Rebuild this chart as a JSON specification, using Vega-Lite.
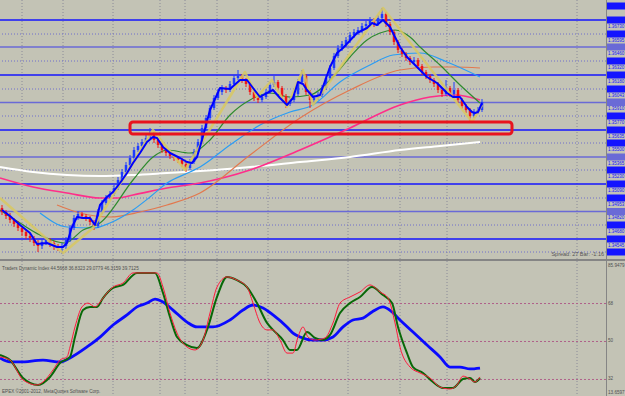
{
"$schema":"https://vega.github.io/schema/vega-lite/v6.json",
"background":"#858585",
"padding":0,
"autosize":{"type":"pad"},
"spacing":2,
"config":{"view":{"fill":"#c3c3b5","stroke":null},"text":{"font":"DejaVu Sans"},"mark":{"clip":true},"line":{"strokeJoin":"round","clip":true},"rule":{"clip":true},"rect":{"clip":true},"text":{"clip":true}},
"datasets":{
"candles":[
{"i":0,"o":1.3492,"h":1.3495,"l":1.3485,"c":1.3488},{"i":1,"o":1.3488,"h":1.3490,"l":1.3481,"c":1.3484},{"i":2,"o":1.3484,"h":1.3487,"l":1.3477,"c":1.3480},{"i":3,"o":1.3480,"h":1.3482,"l":1.3473,"c":1.3476},{"i":4,"o":1.3476,"h":1.3479,"l":1.3469,"c":1.3472},{"i":5,"o":1.3472,"h":1.3474,"l":1.3464,"c":1.3468},{"i":6,"o":1.3468,"h":1.3471,"l":1.3461,"c":1.3464},{"i":7,"o":1.3464,"h":1.3467,"l":1.3458,"c":1.3462},{"i":8,"o":1.3462,"h":1.3464,"l":1.3454,"c":1.3457},{"i":9,"o":1.3457,"h":1.3460,"l":1.3448,"c":1.3454},
{"i":10,"o":1.3454,"h":1.3461,"l":1.3451,"c":1.3458},{"i":11,"o":1.3458,"h":1.3463,"l":1.3455,"c":1.3460},{"i":12,"o":1.3460,"h":1.3462,"l":1.3453,"c":1.3457},{"i":13,"o":1.3457,"h":1.3459,"l":1.3450,"c":1.3454},{"i":14,"o":1.3454,"h":1.3456,"l":1.3449,"c":1.3452},{"i":15,"o":1.3452,"h":1.3457,"l":1.3446,"c":1.3454},{"i":16,"o":1.3454,"h":1.3463,"l":1.3451,"c":1.3460},{"i":17,"o":1.3460,"h":1.3475,"l":1.3458,"c":1.3472},{"i":18,"o":1.3472,"h":1.3485,"l":1.3470,"c":1.3482},{"i":19,"o":1.3482,"h":1.3489,"l":1.3480,"c":1.3486},
{"i":20,"o":1.3486,"h":1.3488,"l":1.3481,"c":1.3484},{"i":21,"o":1.3484,"h":1.3486,"l":1.3479,"c":1.3482},{"i":22,"o":1.3482,"h":1.3484,"l":1.3475,"c":1.3478},{"i":23,"o":1.3478,"h":1.3480,"l":1.3470,"c":1.3474},{"i":24,"o":1.3474,"h":1.3491,"l":1.3472,"c":1.3488},{"i":25,"o":1.3488,"h":1.3500,"l":1.3486,"c":1.3497},{"i":26,"o":1.3497,"h":1.3505,"l":1.3495,"c":1.3502},{"i":27,"o":1.3502,"h":1.3509,"l":1.3500,"c":1.3506},{"i":28,"o":1.3506,"h":1.3515,"l":1.3504,"c":1.3512},{"i":29,"o":1.3512,"h":1.3523,"l":1.3510,"c":1.3520},
{"i":30,"o":1.3520,"h":1.3531,"l":1.3518,"c":1.3528},{"i":31,"o":1.3528,"h":1.3538,"l":1.3526,"c":1.3535},{"i":32,"o":1.3535,"h":1.3545,"l":1.3533,"c":1.3542},{"i":33,"o":1.3542,"h":1.3553,"l":1.3540,"c":1.3550},{"i":34,"o":1.3550,"h":1.3557,"l":1.3548,"c":1.3554},{"i":35,"o":1.3554,"h":1.3561,"l":1.3552,"c":1.3558},{"i":36,"o":1.3558,"h":1.3565,"l":1.3556,"c":1.3562},{"i":37,"o":1.3562,"h":1.3572,"l":1.3560,"c":1.3566},{"i":38,"o":1.3566,"h":1.3568,"l":1.3557,"c":1.3560},{"i":39,"o":1.3560,"h":1.3562,"l":1.3552,"c":1.3555},
{"i":40,"o":1.3555,"h":1.3557,"l":1.3547,"c":1.3550},{"i":41,"o":1.3550,"h":1.3552,"l":1.3544,"c":1.3547},{"i":42,"o":1.3547,"h":1.3549,"l":1.3541,"c":1.3544},{"i":43,"o":1.3544,"h":1.3546,"l":1.3539,"c":1.3542},{"i":44,"o":1.3542,"h":1.3544,"l":1.3537,"c":1.3540},{"i":45,"o":1.3540,"h":1.3542,"l":1.3533,"c":1.3536},{"i":46,"o":1.3536,"h":1.3538,"l":1.3528,"c":1.3532},{"i":47,"o":1.3532,"h":1.3541,"l":1.3530,"c":1.3538},{"i":48,"o":1.3538,"h":1.3551,"l":1.3536,"c":1.3548},{"i":49,"o":1.3548,"h":1.3561,"l":1.3546,"c":1.3558},
{"i":50,"o":1.3558,"h":1.3575,"l":1.3556,"c":1.3572},{"i":51,"o":1.3572,"h":1.3585,"l":1.3570,"c":1.3582},{"i":52,"o":1.3582,"h":1.3595,"l":1.3580,"c":1.3592},{"i":53,"o":1.3592,"h":1.3605,"l":1.3590,"c":1.3602},{"i":54,"o":1.3602,"h":1.3611,"l":1.3600,"c":1.3608},{"i":55,"o":1.3608,"h":1.3615,"l":1.3605,"c":1.3612},{"i":56,"o":1.3612,"h":1.3614,"l":1.3607,"c":1.3610},{"i":57,"o":1.3610,"h":1.3619,"l":1.3608,"c":1.3616},{"i":58,"o":1.3616,"h":1.3625,"l":1.3614,"c":1.3622},{"i":59,"o":1.3622,"h":1.3630,"l":1.3620,"c":1.3624},
{"i":60,"o":1.3624,"h":1.3626,"l":1.3617,"c":1.3620},{"i":61,"o":1.3620,"h":1.3622,"l":1.3613,"c":1.3616},{"i":62,"o":1.3616,"h":1.3618,"l":1.3605,"c":1.3608},{"i":63,"o":1.3608,"h":1.3610,"l":1.3599,"c":1.3602},{"i":64,"o":1.3602,"h":1.3604,"l":1.3597,"c":1.3600},{"i":65,"o":1.3600,"h":1.3606,"l":1.3598,"c":1.3603},{"i":66,"o":1.3603,"h":1.3611,"l":1.3601,"c":1.3608},{"i":67,"o":1.3608,"h":1.3618,"l":1.3606,"c":1.3615},{"i":68,"o":1.3615,"h":1.3624,"l":1.3613,"c":1.3618},{"i":69,"o":1.3618,"h":1.3620,"l":1.3609,"c":1.3612},
{"i":70,"o":1.3612,"h":1.3614,"l":1.3601,"c":1.3604},{"i":71,"o":1.3604,"h":1.3606,"l":1.3592,"c":1.3596},{"i":72,"o":1.3596,"h":1.3603,"l":1.3594,"c":1.3600},{"i":73,"o":1.3600,"h":1.3609,"l":1.3598,"c":1.3606},{"i":74,"o":1.3606,"h":1.3621,"l":1.3604,"c":1.3618},{"i":75,"o":1.3618,"h":1.3630,"l":1.3616,"c":1.3624},{"i":76,"o":1.3624,"h":1.3626,"l":1.3605,"c":1.3608},{"i":77,"o":1.3608,"h":1.3610,"l":1.3592,"c":1.3600},{"i":78,"o":1.3600,"h":1.3605,"l":1.3597,"c":1.3602},{"i":79,"o":1.3602,"h":1.3608,"l":1.3600,"c":1.3605},
{"i":80,"o":1.3605,"h":1.3615,"l":1.3603,"c":1.3612},{"i":81,"o":1.3612,"h":1.3625,"l":1.3610,"c":1.3622},{"i":82,"o":1.3622,"h":1.3635,"l":1.3620,"c":1.3632},{"i":83,"o":1.3632,"h":1.3647,"l":1.3630,"c":1.3644},{"i":84,"o":1.3644,"h":1.3655,"l":1.3642,"c":1.3652},{"i":85,"o":1.3652,"h":1.3659,"l":1.3649,"c":1.3656},{"i":86,"o":1.3656,"h":1.3663,"l":1.3653,"c":1.3660},{"i":87,"o":1.3660,"h":1.3668,"l":1.3657,"c":1.3665},{"i":88,"o":1.3665,"h":1.3671,"l":1.3662,"c":1.3668},{"i":89,"o":1.3668,"h":1.3673,"l":1.3665,"c":1.3670},
{"i":90,"o":1.3670,"h":1.3677,"l":1.3667,"c":1.3674},{"i":91,"o":1.3674,"h":1.3679,"l":1.3671,"c":1.3676},{"i":92,"o":1.3676,"h":1.3683,"l":1.3673,"c":1.3680},{"i":93,"o":1.3680,"h":1.3682,"l":1.3673,"c":1.3676},{"i":94,"o":1.3676,"h":1.3685,"l":1.3674,"c":1.3682},{"i":95,"o":1.3682,"h":1.3692,"l":1.3680,"c":1.3686},{"i":96,"o":1.3686,"h":1.3688,"l":1.3673,"c":1.3676},{"i":97,"o":1.3676,"h":1.3678,"l":1.3665,"c":1.3668},{"i":98,"o":1.3668,"h":1.3670,"l":1.3655,"c":1.3658},{"i":99,"o":1.3658,"h":1.3660,"l":1.3647,"c":1.3650},
{"i":100,"o":1.3650,"h":1.3652,"l":1.3643,"c":1.3646},{"i":101,"o":1.3646,"h":1.3648,"l":1.3639,"c":1.3642},{"i":102,"o":1.3642,"h":1.3644,"l":1.3635,"c":1.3638},{"i":103,"o":1.3638,"h":1.3643,"l":1.3636,"c":1.3640},{"i":104,"o":1.3640,"h":1.3642,"l":1.3631,"c":1.3634},{"i":105,"o":1.3634,"h":1.3636,"l":1.3625,"c":1.3628},{"i":106,"o":1.3628,"h":1.3630,"l":1.3621,"c":1.3624},{"i":107,"o":1.3624,"h":1.3626,"l":1.3617,"c":1.3620},{"i":108,"o":1.3620,"h":1.3622,"l":1.3613,"c":1.3616},{"i":109,"o":1.3616,"h":1.3618,"l":1.3607,"c":1.3610},
{"i":110,"o":1.3610,"h":1.3612,"l":1.3603,"c":1.3606},{"i":111,"o":1.3606,"h":1.3620,"l":1.3604,"c":1.3612},{"i":112,"o":1.3612,"h":1.3614,"l":1.3603,"c":1.3606},{"i":113,"o":1.3606,"h":1.3618,"l":1.3604,"c":1.3610},{"i":114,"o":1.3610,"h":1.3612,"l":1.3597,"c":1.3600},{"i":115,"o":1.3600,"h":1.3602,"l":1.3591,"c":1.3594},{"i":116,"o":1.3594,"h":1.3596,"l":1.3587,"c":1.3590},{"i":117,"o":1.3590,"h":1.3592,"l":1.3578,"c":1.3584},{"i":118,"o":1.3584,"h":1.3591,"l":1.3582,"c":1.3588},{"i":119,"o":1.3588,"h":1.3593,"l":1.3586,"c":1.3590},
{"i":120,"o":1.3590,"h":1.3601,"l":1.3588,"c":1.3598}
],
"ma":[
{"s":"white","i":-0.5,"v":1.3533},{"s":"white","i":7.75,"v":1.3528},{"s":"white","i":16.25,"v":1.3525},{"s":"white","i":24.5,"v":1.3524},{"s":"white","i":32.75,"v":1.3525},{"s":"white","i":41.25,"v":1.3527},{"s":"white","i":49.5,"v":1.3529},{"s":"white","i":62,"v":1.3533},{"s":"white","i":74.5,"v":1.3538},{"s":"white","i":87,"v":1.3543},{"s":"white","i":99.5,"v":1.3550},{"s":"white","i":109.5,"v":1.3554},{"s":"white","i":119.5,"v":1.3558},
{"s":"pink","i":-0.5,"v":1.3522},{"s":"pink","i":7.75,"v":1.3513},{"s":"pink","i":16.25,"v":1.3507},{"s":"pink","i":24.5,"v":1.3502},{"s":"pink","i":28.75,"v":1.3502},{"s":"pink","i":32.75,"v":1.3505},{"s":"pink","i":41.25,"v":1.3512},{"s":"pink","i":49.5,"v":1.3517},{"s":"pink","i":62,"v":1.3530},{"s":"pink","i":74.5,"v":1.3550},{"s":"pink","i":87,"v":1.3572},{"s":"pink","i":99.5,"v":1.3595},{"s":"pink","i":107,"v":1.3603},{"s":"pink","i":113.25,"v":1.3605},{"s":"pink","i":119.5,"v":1.3600},
{"s":"orange","i":13.75,"v":1.3495},{"s":"orange","i":19.5,"v":1.3487},{"s":"orange","i":27,"v":1.3483},{"s":"orange","i":34.5,"v":1.3488},{"s":"orange","i":41.25,"v":1.3495},{"s":"orange","i":49.5,"v":1.3507},{"s":"orange","i":62,"v":1.3545},{"s":"orange","i":74.5,"v":1.3582},{"s":"orange","i":87,"v":1.3610},{"s":"orange","i":99.5,"v":1.3630},{"s":"orange","i":107.75,"v":1.3633},{"s":"orange","i":113.25,"v":1.3633},{"s":"orange","i":119.5,"v":1.3632},
{"s":"sky","i":9.5,"v":1.3487},{"s":"sky","i":16.25,"v":1.3473},{"s":"sky","i":22.75,"v":1.3472},{"s":"sky","i":27,"v":1.3477},{"s":"sky","i":32.75,"v":1.3490},{"s":"sky","i":37,"v":1.3503},{"s":"sky","i":41.25,"v":1.3517},{"s":"sky","i":47,"v":1.3528},{"s":"sky","i":49.5,"v":1.3533},{"s":"sky","i":57,"v":1.3555},{"s":"sky","i":64.5,"v":1.3575},{"s":"sky","i":72,"v":1.3588},{"s":"sky","i":77.75,"v":1.3595},{"s":"sky","i":84.5,"v":1.3618},{"s":"sky","i":92,"v":1.3635},{"s":"sky","i":97.75,"v":1.3645},{"s":"sky","i":104.5,"v":1.3647},{"s":"sky","i":111.25,"v":1.3638},{"s":"sky","i":119.5,"v":1.3623},
{"s":"green","i":-0.5,"v":1.3490},{"s":"green","i":4.5,"v":1.3477},{"s":"green","i":9.5,"v":1.3465},{"s":"green","i":15.75,"v":1.3457},{"s":"green","i":20.25,"v":1.3470},{"s":"green","i":24.5,"v":1.3477},{"s":"green","i":32.75,"v":1.3520},{"s":"green","i":37.75,"v":1.3543},{"s":"green","i":41.25,"v":1.3550},{"s":"green","i":47,"v":1.3547},{"s":"green","i":52,"v":1.3560},{"s":"green","i":57,"v":1.3585},{"s":"green","i":62,"v":1.3600},{"s":"green","i":67,"v":1.3607},{"s":"green","i":72,"v":1.3603},{"s":"green","i":77,"v":1.3605},{"s":"green","i":82.75,"v":1.3623},{"s":"green","i":87,"v":1.3643},{"s":"green","i":91.25,"v":1.3660},{"s":"green","i":94.5,"v":1.3667},{"s":"green","i":98.25,"v":1.3670},{"s":"green","i":102,"v":1.3663},{"s":"green","i":104.5,"v":1.3653},{"s":"green","i":109.5,"v":1.3635},{"s":"green","i":114.5,"v":1.3615},{"s":"green","i":119.5,"v":1.3597},
{"s":"yellow","i":-0.5,"v":1.3502},{"s":"yellow","i":15.25,"v":1.3447},{"s":"yellow","i":22.75,"v":1.3472},{"s":"yellow","i":37.75,"v":1.3570},{"s":"yellow","i":45.75,"v":1.3530},{"s":"yellow","i":60.75,"v":1.3628},{"s":"yellow","i":63.75,"v":1.3603},{"s":"yellow","i":67.5,"v":1.3620},{"s":"yellow","i":71.25,"v":1.3593},{"s":"yellow","i":75.25,"v":1.3630},{"s":"yellow","i":77.75,"v":1.3595},{"s":"yellow","i":95.25,"v":1.3692},{"s":"yellow","i":117.5,"v":1.3578},{"s":"yellow","i":120,"v":1.3595},
{"s":"blue","i":0,"v":1.3490},{"s":"blue","i":2,"v":1.3484},{"s":"blue","i":4.5,"v":1.3475},{"s":"blue","i":7,"v":1.3467},{"s":"blue","i":8.75,"v":1.3456},{"s":"blue","i":11.25,"v":1.3457},{"s":"blue","i":13.75,"v":1.3453},{"s":"blue","i":15.25,"v":1.3453},{"s":"blue","i":16.25,"v":1.3457},{"s":"blue","i":17.5,"v":1.3473},{"s":"blue","i":18.75,"v":1.3483},{"s":"blue","i":20.25,"v":1.3482},{"s":"blue","i":22,"v":1.3482},{"s":"blue","i":23.25,"v":1.3475},{"s":"blue","i":24.5,"v":1.3495},{"s":"blue","i":26.25,"v":1.3503},{"s":"blue","i":27.75,"v":1.3508},{"s":"blue","i":29.5,"v":1.3517},{"s":"blue","i":31.25,"v":1.3527},{"s":"blue","i":32.75,"v":1.3537},{"s":"blue","i":34.5,"v":1.3547},{"s":"blue","i":36.25,"v":1.3558},{"s":"blue","i":37.75,"v":1.3563},{"s":"blue","i":38.75,"v":1.3562},{"s":"blue","i":40.25,"v":1.3553},{"s":"blue","i":42,"v":1.3547},{"s":"blue","i":44.5,"v":1.3542},{"s":"blue","i":46.25,"v":1.3538},{"s":"blue","i":47.5,"v":1.3537},{"s":"blue","i":48.75,"v":1.3543},{"s":"blue","i":50,"v":1.3560},{"s":"blue","i":52,"v":1.3590},{"s":"blue","i":54.5,"v":1.3612},{"s":"blue","i":57,"v":1.3611},{"s":"blue","i":59.5,"v":1.3620},{"s":"blue","i":61.25,"v":1.3620},{"s":"blue","i":62.75,"v":1.3612},{"s":"blue","i":64.5,"v":1.3603},{"s":"blue","i":66.25,"v":1.3607},{"s":"blue","i":67.75,"v":1.3610},{"s":"blue","i":69.5,"v":1.3602},{"s":"blue","i":71.25,"v":1.3595},{"s":"blue","i":72.75,"v":1.3602},{"s":"blue","i":74,"v":1.3618},{"s":"blue","i":75.25,"v":1.3616},{"s":"blue","i":76.25,"v":1.3610},{"s":"blue","i":77.75,"v":1.3603},{"s":"blue","i":79.5,"v":1.3605},{"s":"blue","i":82,"v":1.3633},{"s":"blue","i":83.75,"v":1.3647},{"s":"blue","i":85.25,"v":1.3652},{"s":"blue","i":88.75,"v":1.3667},{"s":"blue","i":91.25,"v":1.3672},{"s":"blue","i":92.5,"v":1.3677},{"s":"blue","i":93.75,"v":1.3675},{"s":"blue","i":95.25,"v":1.3680},{"s":"blue","i":97,"v":1.3673},{"s":"blue","i":99.5,"v":1.3653},{"s":"blue","i":101.25,"v":1.3643},{"s":"blue","i":103.75,"v":1.3633},{"s":"blue","i":106.25,"v":1.3623},{"s":"blue","i":108.75,"v":1.3617},{"s":"blue","i":111.25,"v":1.3607},{"s":"blue","i":112.75,"v":1.3603},{"s":"blue","i":114.5,"v":1.3603},{"s":"blue","i":116.25,"v":1.3593},{"s":"blue","i":117.5,"v":1.3588},{"s":"blue","i":118.25,"v":1.3587},{"s":"blue","i":119,"v":1.3588},{"s":"blue","i":120,"v":1.3597}
],
"tdi":[
{"s":"blue","i":-0.5,"v":42.2},{"s":"blue","i":2,"v":40.3},{"s":"blue","i":4.5,"v":40.3},{"s":"blue","i":10.25,"v":41.2},{"s":"blue","i":14.5,"v":40.3},{"s":"blue","i":17,"v":42.2},{"s":"blue","i":21.25,"v":47.4},{"s":"blue","i":24.5,"v":52.1},{"s":"blue","i":27.75,"v":57.8},{"s":"blue","i":31.25,"v":62.6},{"s":"blue","i":33.75,"v":66.4},{"s":"blue","i":36.25,"v":68.2},{"s":"blue","i":38.25,"v":70.1},{"s":"blue","i":40.25,"v":68.7},{"s":"blue","i":42.75,"v":64.9},{"s":"blue","i":46.25,"v":59.2},{"s":"blue","i":48.75,"v":56.9},{"s":"blue","i":52.75,"v":56.9},{"s":"blue","i":57,"v":60.2},{"s":"blue","i":60.25,"v":64.9},{"s":"blue","i":62.75,"v":67.3},{"s":"blue","i":65.25,"v":65.9},{"s":"blue","i":67.75,"v":62.6},{"s":"blue","i":71.25,"v":56.9},{"s":"blue","i":72.75,"v":54.0},{"s":"blue","i":74.5,"v":52.1},{"s":"blue","i":77.75,"v":50.7},{"s":"blue","i":80.25,"v":50.7},{"s":"blue","i":82.75,"v":52.1},{"s":"blue","i":85.25,"v":56.9},{"s":"blue","i":87.75,"v":60.2},{"s":"blue","i":90.25,"v":61.1},{"s":"blue","i":92.5,"v":64.0},{"s":"blue","i":95.25,"v":66.4},{"s":"blue","i":97.5,"v":64.0},{"s":"blue","i":99.5,"v":60.2},{"s":"blue","i":102.75,"v":54.5},{"s":"blue","i":106.25,"v":48.3},{"s":"blue","i":109.5,"v":42.7},{"s":"blue","i":112,"v":37.9},{"s":"blue","i":114.5,"v":37.9},{"s":"blue","i":117,"v":37.0},{"s":"blue","i":119.5,"v":37.4},
{"s":"green","i":-0.5,"v":43.6},{"s":"green","i":2,"v":41.2},{"s":"green","i":5.25,"v":32.7},{"s":"green","i":9,"v":29.4},{"s":"green","i":12,"v":33.2},{"s":"green","i":14.5,"v":39.8},{"s":"green","i":17,"v":42.7},{"s":"green","i":18.25,"v":52.1},{"s":"green","i":20.25,"v":64.9},{"s":"green","i":22,"v":66.4},{"s":"green","i":23.75,"v":66.4},{"s":"green","i":25.25,"v":70.6},{"s":"green","i":27.75,"v":75.4},{"s":"green","i":30.25,"v":76.8},{"s":"green","i":33.75,"v":82.5},{"s":"green","i":38.25,"v":82.5},{"s":"green","i":40.25,"v":73.0},{"s":"green","i":42,"v":61.6},{"s":"green","i":43.75,"v":52.1},{"s":"green","i":46.25,"v":48.3},{"s":"green","i":48.75,"v":46.9},{"s":"green","i":51.25,"v":55.5},{"s":"green","i":53.75,"v":71.1},{"s":"green","i":56.25,"v":80.6},{"s":"green","i":58.75,"v":79.1},{"s":"green","i":61.25,"v":75.8},{"s":"green","i":63.75,"v":68.2},{"s":"green","i":66.25,"v":58.8},{"s":"green","i":67.75,"v":55.5},{"s":"green","i":70.25,"v":50.7},{"s":"green","i":72,"v":46.0},{"s":"green","i":73.75,"v":46.0},{"s":"green","i":76.25,"v":54.5},{"s":"green","i":78.25,"v":51.7},{"s":"green","i":80.25,"v":50.7},{"s":"green","i":82,"v":53.1},{"s":"green","i":84.5,"v":63.5},{"s":"green","i":87,"v":68.2},{"s":"green","i":89.5,"v":71.1},{"s":"green","i":92.5,"v":75.8},{"s":"green","i":95.25,"v":72.0},{"s":"green","i":97.5,"v":68.2},{"s":"green","i":99,"v":56.9},{"s":"green","i":101.25,"v":44.5},{"s":"green","i":102.75,"v":37.9},{"s":"green","i":105.25,"v":35.1},{"s":"green","i":107.75,"v":30.8},{"s":"green","i":110.25,"v":28.0},{"s":"green","i":112.75,"v":28.0},{"s":"green","i":115.25,"v":32.2},{"s":"green","i":117,"v":32.7},{"s":"green","i":118.25,"v":30.8},{"s":"green","i":119.5,"v":32.7},
{"s":"red","i":-0.5,"v":42.7},{"s":"red","i":2,"v":41.2},{"s":"red","i":5.25,"v":31.8},{"s":"red","i":8.75,"v":29.4},{"s":"red","i":10.25,"v":30.8},{"s":"red","i":12.75,"v":36.5},{"s":"red","i":14.5,"v":41.2},{"s":"red","i":16.25,"v":42.7},{"s":"red","i":17,"v":47.4},{"s":"red","i":18.25,"v":56.9},{"s":"red","i":20,"v":66.4},{"s":"red","i":21.5,"v":68.2},{"s":"red","i":23.25,"v":66.4},{"s":"red","i":24.5,"v":68.7},{"s":"red","i":26.25,"v":73.0},{"s":"red","i":27.75,"v":75.8},{"s":"red","i":30.25,"v":77.7},{"s":"red","i":32.75,"v":82.5},{"s":"red","i":38.75,"v":82.5},{"s":"red","i":40.25,"v":75.8},{"s":"red","i":42,"v":63.5},{"s":"red","i":43.75,"v":54.0},{"s":"red","i":46.25,"v":47.4},{"s":"red","i":48.25,"v":46.0},{"s":"red","i":50.25,"v":50.7},{"s":"red","i":52,"v":63.5},{"s":"red","i":53.75,"v":75.8},{"s":"red","i":56.25,"v":80.6},{"s":"red","i":58.75,"v":79.1},{"s":"red","i":61.25,"v":75.8},{"s":"red","i":62.75,"v":68.2},{"s":"red","i":64.5,"v":58.8},{"s":"red","i":66.25,"v":55.5},{"s":"red","i":67.75,"v":55.5},{"s":"red","i":69.5,"v":50.7},{"s":"red","i":71.25,"v":44.5},{"s":"red","i":72.75,"v":44.5},{"s":"red","i":74,"v":52.1},{"s":"red","i":75.25,"v":56.9},{"s":"red","i":76.5,"v":52.1},{"s":"red","i":78.25,"v":50.7},{"s":"red","i":80.75,"v":51.7},{"s":"red","i":82.75,"v":58.8},{"s":"red","i":84.5,"v":68.2},{"s":"red","i":87,"v":71.1},{"s":"red","i":89.5,"v":73.5},{"s":"red","i":92,"v":76.8},{"s":"red","i":94.5,"v":73.5},{"s":"red","i":96.5,"v":70.6},{"s":"red","i":98.25,"v":58.8},{"s":"red","i":99.5,"v":47.4},{"s":"red","i":102,"v":37.9},{"s":"red","i":104.5,"v":35.1},{"s":"red","i":107,"v":32.7},{"s":"red","i":109.5,"v":28.4},{"s":"red","i":112,"v":27.5},{"s":"red","i":113.75,"v":29.4},{"s":"red","i":115.25,"v":33.6},{"s":"red","i":117,"v":32.2},{"s":"red","i":118.25,"v":30.8},{"s":"red","i":119.5,"v":33.2}
],
"vg":[{"i":5},{"i":15.25},{"i":27.75},{"i":39.5},{"i":45.75},{"i":53.75},{"i":66.5},{"i":86.5},{"i":99.5},{"i":111.25},{"i":143.75}],
"hl":[{"v":1.3680,"k":"b"},{"v":1.3653,"k":"m"},{"v":1.3625,"k":"b"},{"v":1.35975,"k":"m"},{"v":1.3570,"k":"b"},{"v":1.3543,"k":"m"},{"v":1.3516,"k":"b"},{"v":1.34885,"k":"m"},{"v":1.3461,"k":"b"},
{"v":1.3666,"k":"d"},{"v":1.3639,"k":"d"},{"v":1.3611,"k":"d"},{"v":1.3584,"k":"d"},{"v":1.3557,"k":"d"},{"v":1.3530,"k":"d"},{"v":1.3502,"k":"d"},{"v":1.3475,"k":"d"},{"v":1.3448,"k":"d"}],
"lbl":[{"v":1.3694,"k":"b"},{"v":1.3680,"k":"b"},{"v":1.3653,"k":"m"},{"v":1.3625,"k":"b"},{"v":1.35975,"k":"m"},{"v":1.3570,"k":"b"},{"v":1.3543,"k":"m"},{"v":1.3516,"k":"b"},{"v":1.34885,"k":"m"},{"v":1.3461,"k":"b"},
{"v":1.3666,"k":"d"},{"v":1.3639,"k":"d"},{"v":1.3611,"k":"d"},{"v":1.3584,"k":"d"},{"v":1.3557,"k":"d"},{"v":1.3530,"k":"d"},{"v":1.3502,"k":"d"},{"v":1.3475,"k":"d"},{"v":1.3448,"k":"d"},
{"v":1.3598,"k":"c"},
{"v":1.3673,"k":"g"},{"v":1.36595,"k":"g"},{"v":1.3646,"k":"g"},{"v":1.3632,"k":"g"},{"v":1.3618,"k":"g"},{"v":1.36043,"k":"g"},{"v":1.3591,"k":"g"},{"v":1.3577,"k":"g"},{"v":1.35635,"k":"g"},{"v":1.3550,"k":"g"},{"v":1.35365,"k":"g"},{"v":1.3523,"k":"g"},{"v":1.3509,"k":"g"},{"v":1.34953,"k":"g"},{"v":1.3482,"k":"g"},{"v":1.3468,"k":"g"},{"v":1.34545,"k":"g"}]
},
"vconcat":[
{"spacing":1,"hconcat":[
{"width":606,"height":259,
"layer":[
{"data":{"name":"vg"},"mark":{"type":"rule","strokeDash":[1,2],"color":"#8a8a98","strokeWidth":1,"clip":true},
 "encoding":{"x":{"field":"i","type":"quantitative","scale":{"domain":[-0.5,151],"nice":false,"zero":false},"axis":null}}},
{"data":{"name":"hl"},"transform":[{"filter":"datum.k=='d'"}],"mark":{"type":"rule","strokeDash":[1,2],"color":"#6f6fcc","strokeWidth":1,"clip":true},
 "encoding":{"y":{"field":"v","type":"quantitative","scale":{"domain":[1.3441,1.37],"nice":false,"zero":false},"axis":null}}},
{"data":{"name":"hl"},"transform":[{"filter":"datum.k!='d'"}],"mark":{"type":"rule","strokeWidth":1.6,"clip":true},
 "encoding":{"y":{"field":"v","type":"quantitative","scale":{"domain":[1.3441,1.37],"nice":false,"zero":false},"axis":null},
  "color":{"field":"k","type":"nominal","scale":{"domain":["b","m"],"range":["#1414ff","#6a6ad6"]},"legend":null}}},
{"data":{"name":"ma"},"transform":[{"filter":"datum.s=='white'"}],"mark":{"type":"line","color":"#ffffff","strokeWidth":2,"interpolate":"monotone","clip":true},
 "encoding":{"x":{"field":"i","type":"quantitative","scale":{"domain":[-0.5,151],"nice":false,"zero":false},"axis":null},"y":{"field":"v","type":"quantitative","scale":{"domain":[1.3441,1.37],"nice":false,"zero":false},"axis":null}}},
{"data":{"name":"ma"},"transform":[{"filter":"datum.s=='pink'"}],"mark":{"type":"line","color":"#ff2e8a","strokeWidth":1.6,"interpolate":"monotone","clip":true},
 "encoding":{"x":{"field":"i","type":"quantitative","scale":{"domain":[-0.5,151],"nice":false,"zero":false},"axis":null},"y":{"field":"v","type":"quantitative","scale":{"domain":[1.3441,1.37],"nice":false,"zero":false},"axis":null}}},
{"data":{"name":"ma"},"transform":[{"filter":"datum.s=='orange'"}],"mark":{"type":"line","color":"#e2784e","strokeWidth":1.2,"interpolate":"monotone","clip":true},
 "encoding":{"x":{"field":"i","type":"quantitative","scale":{"domain":[-0.5,151],"nice":false,"zero":false},"axis":null},"y":{"field":"v","type":"quantitative","scale":{"domain":[1.3441,1.37],"nice":false,"zero":false},"axis":null}}},
{"data":{"name":"ma"},"transform":[{"filter":"datum.s=='sky'"}],"mark":{"type":"line","color":"#2a9df4","strokeWidth":1.2,"interpolate":"monotone","clip":true},
 "encoding":{"x":{"field":"i","type":"quantitative","scale":{"domain":[-0.5,151],"nice":false,"zero":false},"axis":null},"y":{"field":"v","type":"quantitative","scale":{"domain":[1.3441,1.37],"nice":false,"zero":false},"axis":null}}},
{"data":{"name":"ma"},"transform":[{"filter":"datum.s=='green'"}],"mark":{"type":"line","color":"#2e8b2e","strokeWidth":1.2,"interpolate":"monotone","clip":true},
 "encoding":{"x":{"field":"i","type":"quantitative","scale":{"domain":[-0.5,151],"nice":false,"zero":false},"axis":null},"y":{"field":"v","type":"quantitative","scale":{"domain":[1.3441,1.37],"nice":false,"zero":false},"axis":null}}},
{"data":{"name":"candles"},"mark":{"type":"rule","strokeWidth":1,"clip":true},
 "encoding":{"x":{"field":"i","type":"quantitative","scale":{"domain":[-0.5,151],"nice":false,"zero":false},"axis":null},"y":{"field":"l","type":"quantitative","scale":{"domain":[1.3441,1.37],"nice":false,"zero":false},"axis":null},"y2":{"field":"h"},
  "color":{"condition":{"test":"datum.c>=datum.o","value":"#1e3cff"},"value":"#f01818"}}},
{"data":{"name":"candles"},"mark":{"type":"rule","strokeWidth":2.5,"clip":true},
 "encoding":{"x":{"field":"i","type":"quantitative","scale":{"domain":[-0.5,151],"nice":false,"zero":false},"axis":null},"y":{"field":"o","type":"quantitative","scale":{"domain":[1.3441,1.37],"nice":false,"zero":false},"axis":null},"y2":{"field":"c"},
  "color":{"condition":{"test":"datum.c>=datum.o","value":"#1e3cff"},"value":"#f01818"}}},
{"data":{"name":"ma"},"transform":[{"filter":"datum.s=='yellow'"}],"mark":{"type":"line","color":"#d8c860","strokeWidth":2.5,"opacity":0.85,"clip":true},
 "encoding":{"x":{"field":"i","type":"quantitative","scale":{"domain":[-0.5,151],"nice":false,"zero":false},"axis":null},"y":{"field":"v","type":"quantitative","scale":{"domain":[1.3441,1.37],"nice":false,"zero":false},"axis":null}}},
{"data":{"name":"ma"},"transform":[{"filter":"datum.s=='blue'"}],"mark":{"type":"line","color":"#0000ff","strokeWidth":2,"clip":true},
 "encoding":{"x":{"field":"i","type":"quantitative","scale":{"domain":[-0.5,151],"nice":false,"zero":false},"axis":null},"y":{"field":"v","type":"quantitative","scale":{"domain":[1.3441,1.37],"nice":false,"zero":false},"axis":null}}},
{"data":{"values":[{"i":32,"i2":127.5,"v":1.3566,"v2":1.3578}]},"mark":{"type":"rect","fill":null,"stroke":"#e8141e","strokeWidth":3,"cornerRadius":3,"clip":true},
 "encoding":{"x":{"field":"i","type":"quantitative","scale":{"domain":[-0.5,151],"nice":false,"zero":false},"axis":null},"x2":{"field":"i2"},"y":{"field":"v","type":"quantitative","scale":{"domain":[1.3441,1.37],"nice":false,"zero":false},"axis":null},"y2":{"field":"v2"}}},
{"data":{"values":[{"i":150.5,"v":1.3446,"t":"Spread: 27    Bar: -1:16"}]},"mark":{"type":"text","align":"right","baseline":"middle","fontSize":5.5,"color":"#555555","clip":true},
 "encoding":{"x":{"field":"i","type":"quantitative","scale":{"domain":[-0.5,151],"nice":false,"zero":false},"axis":null},"y":{"field":"v","type":"quantitative","scale":{"domain":[1.3441,1.37],"nice":false,"zero":false},"axis":null},"text":{"field":"t"}}}
]},
{"width":18,"height":259,
"layer":[
{"data":{"name":"lbl"},"transform":[{"filter":"datum.k!='g'"}],"mark":{"type":"rule","strokeWidth":7,"clip":true},
 "encoding":{"y":{"field":"v","type":"quantitative","scale":{"domain":[1.3441,1.37],"nice":false,"zero":false},"axis":null},
  "color":{"field":"k","type":"nominal","scale":{"domain":["b","m","d","c"],"range":["#1414ff","#6a6ad6","#8c8cdc","#1f4d1f"]},"legend":null}}},
{"data":{"name":"lbl"},"mark":{"type":"text","align":"left","baseline":"middle","fontSize":4.5,"dx":1,"clip":true},
 "encoding":{"x":{"datum":0,"type":"quantitative","scale":{"domain":[0,1]},"axis":null},"y":{"field":"v","type":"quantitative","scale":{"domain":[1.3441,1.37],"nice":false,"zero":false},"axis":null},
  "text":{"field":"v","type":"quantitative","format":".5f"},
  "color":{"field":"k","type":"nominal","scale":{"domain":["b","m","d","c","g"],"range":["#ffffff","#ffffff","#ffffff","#ffffff","#555555"]},"legend":null}}}
]}
]},
{"spacing":1,"hconcat":[
{"width":606,"height":135,
"layer":[
{"data":{"name":"vg"},"mark":{"type":"rule","strokeDash":[1,2],"color":"#8a8a98","strokeWidth":1,"clip":true},
 "encoding":{"x":{"field":"i","type":"quantitative","scale":{"domain":[-0.5,151],"nice":false,"zero":false},"axis":null}}},
{"data":{"values":[{"v":68},{"v":50},{"v":32}]},"mark":{"type":"rule","strokeDash":[2,2],"color":"#b0608a","strokeWidth":1,"clip":true},
 "encoding":{"y":{"field":"v","type":"quantitative","scale":{"domain":[24.17,88.15],"nice":false,"zero":false},"axis":null}}},
{"data":{"name":"tdi"},"transform":[{"filter":"datum.s=='blue'"}],"mark":{"type":"line","color":"#0a0aff","strokeWidth":2.8,"interpolate":"monotone","clip":true},
 "encoding":{"x":{"field":"i","type":"quantitative","scale":{"domain":[-0.5,151],"nice":false,"zero":false},"axis":null},"y":{"field":"v","type":"quantitative","scale":{"domain":[24.17,88.15],"nice":false,"zero":false},"axis":null}}},
{"data":{"name":"tdi"},"transform":[{"filter":"datum.s=='green'"}],"mark":{"type":"line","color":"#086808","strokeWidth":2,"interpolate":"monotone","clip":true},
 "encoding":{"x":{"field":"i","type":"quantitative","scale":{"domain":[-0.5,151],"nice":false,"zero":false},"axis":null},"y":{"field":"v","type":"quantitative","scale":{"domain":[24.17,88.15],"nice":false,"zero":false},"axis":null}}},
{"data":{"name":"tdi"},"transform":[{"filter":"datum.s=='red'"}],"mark":{"type":"line","color":"#ff1a3c","strokeWidth":1,"interpolate":"monotone","clip":true},
 "encoding":{"x":{"field":"i","type":"quantitative","scale":{"domain":[-0.5,151],"nice":false,"zero":false},"axis":null},"y":{"field":"v","type":"quantitative","scale":{"domain":[24.17,88.15],"nice":false,"zero":false},"axis":null}}},
{"data":{"values":[{"i":0,"v":84.4,"t":"Traders Dynamic Index 44.5668 36.8323 29.0779 46.3159 39.7125"},{"i":0,"v":26.0,"t":"EPEX  ©2001-2012, MetaQuotes Software Corp."}]},"mark":{"type":"text","align":"left","baseline":"middle","fontSize":4.6,"color":"#505050","clip":true},
 "encoding":{"x":{"field":"i","type":"quantitative","scale":{"domain":[-0.5,151],"nice":false,"zero":false},"axis":null},"y":{"field":"v","type":"quantitative","scale":{"domain":[24.17,88.15],"nice":false,"zero":false},"axis":null},"text":{"field":"t"}}}
]},
{"width":18,"height":135,
"layer":[
{"data":{"values":[{"v":85.9,"t":"85.9479"},{"v":68,"t":"68"},{"v":50,"t":"50"},{"v":32,"t":"32"},{"v":25.6,"t":"13.6597"}]},"mark":{"type":"text","align":"left","baseline":"middle","fontSize":4.6,"dx":1,"color":"#505050","clip":true},
 "encoding":{"x":{"datum":0,"type":"quantitative","scale":{"domain":[0,1]},"axis":null},"y":{"field":"v","type":"quantitative","scale":{"domain":[24.17,88.15],"nice":false,"zero":false},"axis":null},"text":{"field":"t"}}}
]}
]}
]
}
